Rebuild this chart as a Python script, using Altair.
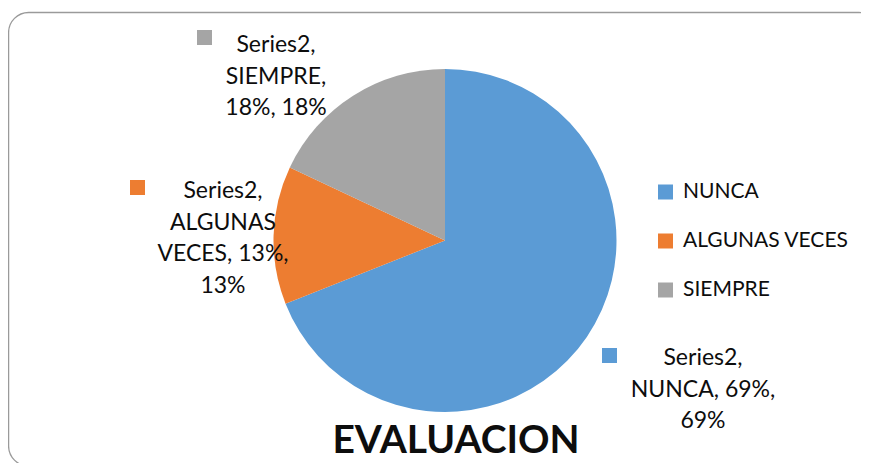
import altair as alt
import pandas as pd

categories = ["NUNCA", "ALGUNAS VECES", "SIEMPRE"]
values = [69, 13, 18]
slice_order = [1, 2, 3]
series_name = "Series2"
title_text = "EVALUACION"
colors = ["#5B9BD5", "#ED7D31", "#A5A5A5"]

df = pd.DataFrame({"cat": categories, "val": values, "ord": slice_order})

FONT = "Lato"
TXT = "#0d0d0d"
color_scale = alt.Scale(domain=categories, range=colors)

# frame
frame = alt.Chart(pd.DataFrame({"a": [0]})).mark_rect(
    fillOpacity=0, stroke="#9a9a9a", strokeWidth=1.3, cornerRadius=20
).encode(x=alt.value(0.6), x2=alt.value(871), y=alt.value(4.5), y2=alt.value(458))

pie = alt.Chart(df).mark_arc(outerRadius=171.5).encode(
    theta=alt.Theta("val:Q", stack=True),
    order=alt.Order("ord:Q"),
    color=alt.Color(
        "cat:N", scale=color_scale,
        legend=alt.Legend(
            title=None, orient="none", legendX=647, legendY=173.5,
            symbolType="square", symbolSize=225, symbolStrokeWidth=0,
            labelFont=FONT, labelFontSize=21, labelColor=TXT, labelLimit=400,
            labelOffset=7, rowPadding=27, padding=0,
        ),
    ),
    x=alt.value(437), y=alt.value(232.5),
)

def pct(c):
    return values[categories.index(c)]

label_specs = [
    # (category, lines, text x, first baseline y, marker x, marker y)
    ("SIEMPRE", [f"{series_name},", "SIEMPRE,", f"{pct('SIEMPRE')}%, {pct('SIEMPRE')}%"], 268, 44, 196.5, 29.5),
    ("ALGUNAS VECES", [f"{series_name},", "ALGUNAS", f"VECES, {pct('ALGUNAS VECES')}%,", f"{pct('ALGUNAS VECES')}%"], 215, 190, 129.5, 179.5),
    ("NUNCA", [f"{series_name},", f"NUNCA, {pct('NUNCA')}%,", f"{pct('NUNCA')}%"], 695, 357, 601.5, 347.5),
]

layers = [frame, pie]
for cat, lines, tx, ty, mx, my in label_specs:
    sub = pd.DataFrame({"cat": [cat], "txt": ["\n".join(lines)]})
    layers.append(
        alt.Chart(sub).mark_text(
            font=FONT, fontSize=23, color=TXT, align="center", baseline="alphabetic",
            lineBreak="\n", lineHeight=31.5,
        ).encode(text="txt:N", x=alt.value(tx), y=alt.value(ty))
    )
    layers.append(
        alt.Chart(sub).mark_square(size=225, opacity=1, strokeWidth=0).encode(
            color=alt.Color("cat:N", scale=color_scale, legend=None),
            x=alt.value(mx), y=alt.value(my),
        )
    )

title = alt.Chart(pd.DataFrame({"t": [title_text]})).mark_text(
    font=FONT, fontSize=39, fontWeight="bold", color=TXT, align="center", baseline="alphabetic"
).encode(text="t:N", x=alt.value(448), y=alt.value(445))
layers.append(title)

chart = alt.layer(*layers).properties(
    width=853, height=455, padding=0, autosize=alt.AutoSizeParams(type="none")
).configure_view(stroke=None)

chart.save("out.html", embed_options={"renderer": "svg", "actions": False})
